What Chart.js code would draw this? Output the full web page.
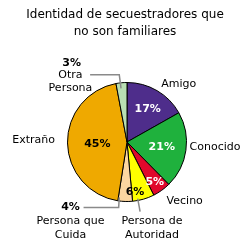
<!DOCTYPE html>
<html>
<head>
<meta charset="utf-8">
<script src="https://cdn.jsdelivr.net/npm/chart.js@4"></script>
<style>
  html, body { margin: 0; padding: 0; background: #fff; }
  #wrap { width: 250px; height: 249px; }
</style>
</head>
<body>
<div id="wrap"><canvas id="pieChart" width="250" height="249"></canvas></div>
<script>
// data, clockwise from 12 o'clock
var categories = ["Amigo", "Conocido", "Vecino", "Persona de Autoridad", "Persona que Cuida", "Extraño", "Otra Persona"];
var values = [17, 21, 5, 6, 4, 45, 3];
var pctText = ["17%", "21%", "5%", "6%", "4%", "45%", "3%"];
var titleLines = ["Identidad de secuestradores que", "no son familiares"];

var colors = ["#4e2d8b", "#1fb13d", "#e0082c", "#ffff00", "#fcd6a0", "#efa900", "#b9dfb3"];
var FONT = "'DejaVu Sans', sans-serif";

// inside labels: radius fraction, angle tweak (deg), colour (null = drawn outside)
var inside = [
  { k: 0.65, da: 2, c: "#fff" },
  { k: 0.59, da: 0, c: "#fff" },
  { k: 0.82, da: 1, c: "#fff" },
  { k: 0.86, da: 7, c: "#000" },
  null,
  { k: 0.5, da: -3, c: "#000" },
  null
];

// outside labels, positions in units of the radius from the centre
var outside = [
  [{ t: "Amigo", x: 0.87, y: -0.98 }],
  [{ t: "Conocido", x: 1.48, y: 0.08 }],
  [{ t: "Vecino", x: 0.97, y: 1.0 }],
  [{ t: "Persona de", x: 0.42, y: 1.33 }, { t: "Autoridad", x: 0.42, y: 1.57 }],
  [{ t: "4%", x: -0.95, y: 1.1, b: true }, { t: "Persona que", x: -0.95, y: 1.33 }, { t: "Cuida", x: -0.95, y: 1.57 }],
  [{ t: "Extraño", x: -1.57, y: -0.03 }],
  [{ t: "3%", x: -0.93, y: -1.33, b: true }, { t: "Otra", x: -0.95, y: -1.13 }, { t: "Persona", x: -0.95, y: -0.9 }]
];

// leader lines (same units)
var leaders = [
  { i: 6, pts: [[-0.62, -1.13], [-0.13, -1.13], [-0.1, -0.9]] },
  { i: 4, pts: [[-0.73, 1.1], [-0.14, 1.1], [-0.13, 0.93]] },
  { i: 3, pts: [[0.18, 0.95], [0.22, 1.17]] }
];

var titlePlugin = {
  id: "twoLineTitle",
  afterDraw: function (chart) {
    var ctx = chart.ctx;
    ctx.save();
    ctx.fillStyle = "#000";
    ctx.font = "12px " + FONT;
    ctx.textAlign = "center";
    ctx.textBaseline = "middle";
    titleLines.forEach(function (t, i) {
      ctx.fillText(t, 125, 15 + i * 17);
    });
    ctx.restore();
  }
};

var labelPlugin = {
  id: "sliceLabels",
  afterDatasetsDraw: function (chart) {
    var ctx = chart.ctx;
    var arcs = chart.getDatasetMeta(0).data;
    var cx = arcs[0].x, cy = arcs[0].y, r = arcs[0].outerRadius;
    ctx.save();
    ctx.textAlign = "center";
    ctx.textBaseline = "middle";

    ctx.strokeStyle = "#8a8a8a";
    ctx.lineWidth = 1.5;
    leaders.forEach(function (l) {
      ctx.beginPath();
      l.pts.forEach(function (p, j) {
        var x = cx + p[0] * r, y = cy + p[1] * r;
        if (j === 0) ctx.moveTo(x, y); else ctx.lineTo(x, y);
      });
      ctx.stroke();
    });

    arcs.forEach(function (arc, i) {
      var s = inside[i];
      if (s) {
        var a = (arc.startAngle + arc.endAngle) / 2 + s.da * Math.PI / 180;
        ctx.fillStyle = s.c;
        ctx.font = "bold 11px " + FONT;
        ctx.fillText(pctText[i], cx + Math.cos(a) * r * s.k, cy + Math.sin(a) * r * s.k);
      }
      outside[i].forEach(function (o) {
        ctx.fillStyle = "#000";
        ctx.font = (o.b ? "bold 11px " : "11px ") + FONT;
        ctx.fillText(o.t, cx + o.x * r, cy + o.y * r);
      });
    });
    ctx.restore();
  }
};

var ctx = document.getElementById("pieChart").getContext("2d");
var myChart = new Chart(ctx, {
  type: "pie",
  data: {
    labels: categories,
    datasets: [{
      data: values,
      backgroundColor: colors,
      borderColor: "#000",
      borderWidth: 1
    }]
  },
  options: {
    responsive: false,
    animation: false,
    layout: { padding: { left: 67, right: 63, top: 82, bottom: 47 } },
    plugins: {
      legend: { display: false },
      tooltip: { enabled: false },
      title: { display: false }
    }
  },
  plugins: [labelPlugin, titlePlugin]
});
</script>
</body>
</html>
